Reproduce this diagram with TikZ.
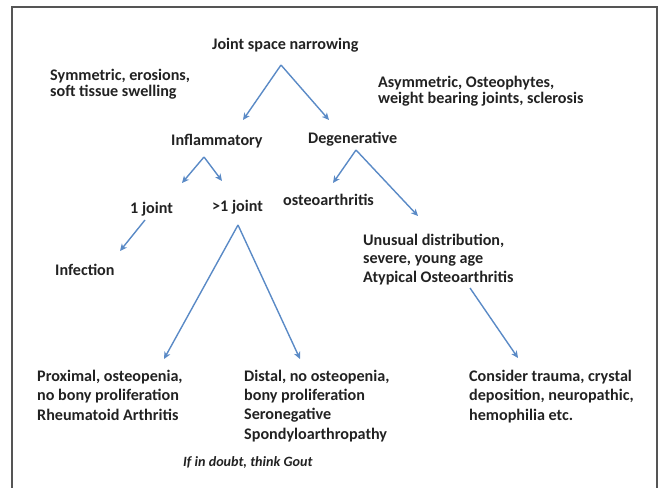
\documentclass[tikz,border=0pt]{standalone}
\usepackage{fontspec}
\setmainfont{Carlito}
\usetikzlibrary{arrows.meta,positioning,calc}
\definecolor{arrowblue}{HTML}{5A8AC6}
\definecolor{inkgray}{HTML}{222222}
\definecolor{framegray}{HTML}{555555}

\begin{document}
\begin{tikzpicture}[x=1bp, y=-1bp,
  lab/.style={font=\bfseries\fontsize{16.2}{19.5}\selectfont, text=inkgray, inner sep=0pt, anchor=base west, align=left},
  tight/.style={lab, font=\bfseries\fontsize{16.2}{17}\selectfont},
  note/.style={lab, font=\bfseries\itshape\fontsize{14.2}{16}\selectfont},
  arr/.style={draw=arrowblue, line width=1.4bp, -{Stealth[length=7bp, width=6.5bp, inset=2bp]}},
  frame/.style={draw=framegray, line width=1.5bp}]
  \useasboundingbox (0,0) rectangle (662,488);
  \draw[frame] (12,488) -- (12,7) -- (657,7) -- (657,488);
  % level 0 (multi-line nodes sit on their last baseline)
  \node[lab] (jsn) at (212,50) {Joint space narrowing};
  \node[tight] (sym) at (50,97) {Symmetric, erosions,\\soft tissue swelling};
  \node[tight] (asym) at (378,104) {Asymmetric, Osteophytes,\\weight bearing joints, sclerosis};
  % level 1
  \node[lab] (infl) at (171,146) {Inflammatory};
  \node[lab] (degen) at (308,144) {Degenerative};
  % level 2
  \node[lab] (one) at (130,214) {1 joint};
  \node[lab] (many) at (212,212) {>1 joint};
  \node[lab] (oa) at (283,206) {osteoarthritis};
  \node[lab] (infec) at (55,275) {Infection};
  \node[lab, font=\bfseries\fontsize{16.2}{18.5}\selectfont] (unus) at (363,282) {Unusual distribution,\\severe, young age\\Atypical Osteoarthritis};
  % level 3
  \node[lab] (ra) at (37,420) {Proximal, osteopenia,\\no bony proliferation\\Rheumatoid Arthritis};
  \node[lab, font=\bfseries\fontsize{16.2}{19.3}\selectfont] (sn) at (244,439) {Distal, no osteopenia,\\bony proliferation\\Seronegative\\Spondyloarthropathy};
  \node[lab] (cons) at (469,420) {Consider trauma, crystal\\deposition, neuropathic,\\hemophilia etc.};
  \node[note] (gout) at (183,466) {If in doubt, think Gout};
  % split points and arrow tips
  \coordinate (jsn-v) at (281,65);
  \coordinate (infl-in) at (243,120);
  \coordinate (degen-in) at (329,120);
  \coordinate (infl-v) at (204,157);
  \coordinate (one-in) at (182,183);
  \coordinate (many-in) at (222,181);
  \coordinate (degen-v) at (356,150);
  \coordinate (oa-in) at (333,183);
  \coordinate (unus-in) at (418,216);
  \coordinate (one-v) at (145,220);
  \coordinate (infec-in) at (120,251);
  \coordinate (many-v) at (238,225);
  \coordinate (ra-in) at (164,359);
  \coordinate (sn-in) at (300,359);
  \coordinate (unus-v) at (470,288);
  \coordinate (cons-in) at (518,358);
  \draw[arr] (jsn-v) -- (infl-in);
  \draw[arr] (jsn-v) -- (degen-in);
  \draw[arr] (infl-v) -- (one-in);
  \draw[arr] (infl-v) -- (many-in);
  \draw[arr] (degen-v) -- (oa-in);
  \draw[arr] (degen-v) -- (unus-in);
  \draw[arr] (one-v) -- (infec-in);
  \draw[arr] (many-v) -- (ra-in);
  \draw[arr] (many-v) -- (sn-in);
  \draw[arr] (unus-v) -- (cons-in);
\end{tikzpicture}
\end{document}
